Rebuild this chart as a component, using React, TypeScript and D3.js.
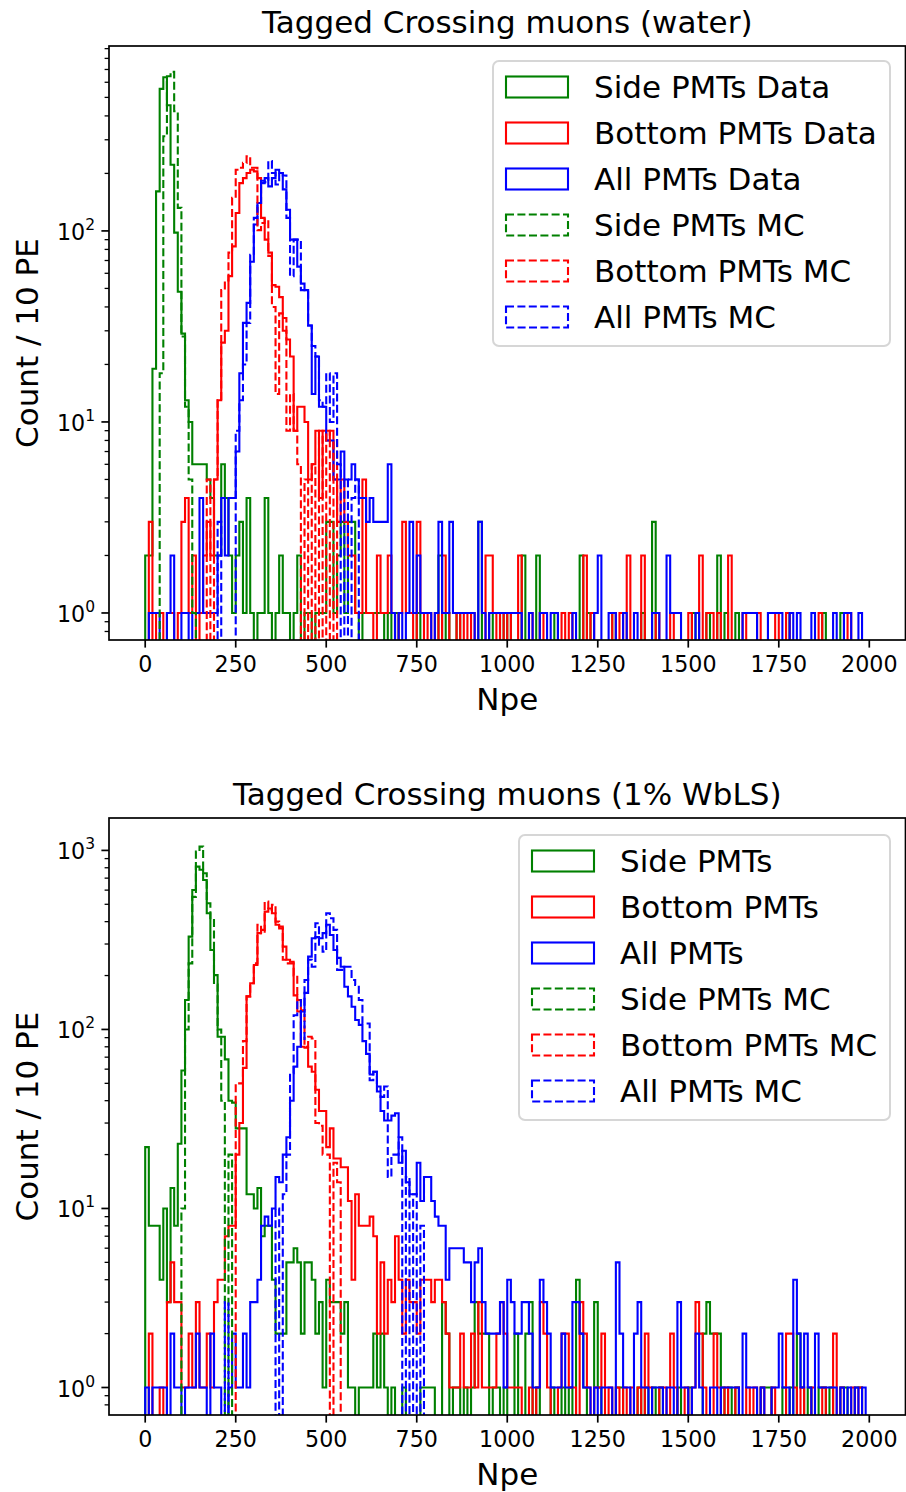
import React from "react";
import * as d3 from "d3";

const FONT = "'DejaVu Sans', sans-serif";
const binWidth = 10;
const binCount = 200;
const xTickValues = [0, 250, 500, 750, 1000, 1250, 1500, 1750, 2000];

// ---------- Water sample: counts per 10 PE bin (dense from bin 0) ----------
const waterSideData = [
  2, 2, 19, 161, 554, 637, 455, 222, 98, 48,
  29, 13, 10, 6, 6, 6, 6, 5, 4, 2,
  2, 6, 4, 2, 1, 2, 3, 1, 4, 1,
  0, 1, 1, 4, 1, 0, 1, 2, 1, 1,
  0, 1, 2, 0, 1, 1, 0, 1, 1, 1,
  3, 3, 1, 2, 3, 1, 3, 3, 1, 0,
  1, 1, 1, 1, 1, 1, 0, 1, 0, 1,
];
const waterSideDataTail = [
  [75, 1], [81, 2], [83, 1], [86, 1], [92, 3], [95, 1], [98, 1], [100, 1], [104, 2], [108, 2],
  [113, 1], [120, 2], [122, 1], [129, 1], [137, 1], [140, 3], [151, 1], [155, 1], [158, 2],
  [160, 1], [163, 1], [177, 1], [187, 1], [192, 1],
];

const waterBottomData = [
  0, 3, 0, 1, 1, 0, 1, 1, 0, 1,
  3, 4, 1, 2, 0, 1, 2, 3, 2, 5,
  13, 26, 30, 58, 83, 124, 178, 189, 201, 209,
  205, 189, 117, 90, 77, 52, 51, 45, 30, 27,
  22, 9, 12, 12, 10, 5, 6, 9, 4, 9,
  8, 9, 5, 3, 5, 3, 2, 2, 1, 1,
  5, 1, 1, 0, 2, 1, 1, 2, 1, 0,
];
const waterBottomDataTail = [
  [70, 1], [71, 3], [72, 1], [73, 1], [75, 3], [76, 1], [78, 1], [80, 1], [82, 2], [83, 1],
  [86, 1], [88, 1], [90, 1], [94, 2], [95, 2], [96, 1], [98, 1], [100, 1], [103, 2], [106, 1],
  [109, 1], [115, 1], [117, 1], [121, 2], [123, 1], [129, 1], [131, 1], [133, 2], [137, 2],
  [141, 1], [145, 1], [150, 1], [153, 2], [155, 1], [156, 1], [158, 1], [161, 2], [165, 1],
  [169, 1], [174, 1], [177, 1], [186, 1], [194, 1],
];

const waterAllData = [
  0, 1, 1, 1, 0, 0, 1, 2, 0, 0,
  1, 1, 0, 1, 1, 4, 1, 1, 1, 1,
  2, 4, 2, 4, 4, 7, 18, 33, 42, 69,
  108, 140, 178, 189, 171, 189, 209, 201, 165, 129,
  90, 90, 65, 53, 49, 32, 14, 22, 12, 12,
  8, 8, 5, 5, 7, 5, 5, 6, 5, 4,
  4, 3, 4, 3, 3, 3, 3, 6, 1, 0,
];
const waterAllDataTail = [
  [70, 1], [72, 1], [73, 3], [74, 1], [75, 2], [76, 1], [77, 1], [78, 1], [80, 1], [81, 3],
  [82, 1], [83, 1], [84, 3], [85, 1], [86, 1], [87, 1], [88, 1], [89, 1], [90, 1], [92, 3],
  [93, 1], [95, 1], [96, 1], [97, 1], [98, 1], [99, 1], [100, 1], [101, 1], [102, 1], [103, 1],
  [106, 1], [109, 1], [110, 1], [112, 1], [113, 1], [118, 1], [124, 1], [125, 2], [128, 1],
  [129, 1], [132, 1], [135, 1], [140, 1], [141, 1], [144, 2], [145, 1], [146, 1], [147, 1],
  [152, 1], [165, 1], [166, 1], [167, 1], [168, 1], [172, 1], [173, 1], [174, 1], [175, 1],
  [178, 1], [180, 1], [184, 1], [190, 1], [193, 1], [194, 1], [197, 1],
];

const waterSideMC = [0, 0, 0, 0, 18, 313, 645, 680, 423, 132, 28, 12, 5, 1];

const waterBottomMC = [
  0, 0, 0, 0, 0, 0, 0, 0, 0, 0,
  0, 0, 0, 0, 0, 0, 0, 5, 0.5, 5,
  13, 49, 55, 77, 149, 209, 214, 227, 246, 214,
  214, 101, 110, 115, 74, 40, 14, 37, 35, 9,
  14, 9, 6, 0.5, 5, 0.5, 6, 0.5, 9, 0.5,
  9, 0.5, 8, 0.5,
];

const waterAllMC = [
  0, 0, 0, 0, 0, 0, 0, 0, 0, 0,
  0, 0, 0, 0, 0, 0, 0, 0, 0, 0.5,
  3, 0.5, 0, 0, 0, 9, 13, 20, 33, 75,
  117, 140, 183, 180, 232, 201, 175, 201, 195, 117,
  58, 90, 90, 49, 49, 32, 25, 22, 13, 12,
  18, 10, 18, 6, 0.5, 5, 0.5, 4, 5, 0.5,
];

// ---------- 1% WbLS sample ----------
const wblsSideData = [
  22, 8, 8, 8, 4, 10, 3, 13, 8, 23,
  59, 146, 330, 601, 812, 780, 684, 446, 278, 201,
  91, 91, 68, 40, 39, 28, 28, 28, 12, 12,
  10, 13, 7, 8, 8, 4, 2, 2, 2, 5,
  5, 6, 5, 2, 5, 5, 4, 2, 3, 1,
  4, 3, 3, 3, 2, 3, 1, 1, 0, 1,
  1, 1, 1, 2, 1, 2, 1, 0, 1, 0,
];
const wblsSideDataTail = [
  [71, 1], [76, 1], [77, 1], [78, 1], [79, 1], [82, 3], [83, 2], [85, 1], [86, 1], [88, 1],
  [90, 1], [91, 3], [92, 2], [93, 2], [94, 2], [96, 1], [97, 1], [99, 1], [102, 2], [105, 2],
  [106, 3], [108, 1], [112, 1], [115, 1], [117, 1], [119, 4], [120, 2], [121, 1], [124, 3],
  [125, 1], [130, 1], [131, 1], [136, 1], [138, 1], [140, 1], [142, 1], [147, 1], [150, 1],
  [154, 2], [155, 3], [156, 2], [157, 2], [158, 2], [159, 1], [161, 1], [163, 1], [170, 1],
  [171, 1], [172, 1], [176, 1], [178, 1], [180, 2], [181, 1], [183, 1], [186, 1], [187, 1],
  [189, 1], [192, 1], [193, 1], [196, 1], [197, 1],
];

const wblsBottomData = [
  0, 2, 0, 0, 1, 0, 3, 5, 3, 3,
  1, 1, 2, 1, 3, 1, 1, 2, 1, 3,
  4, 4, 7, 8, 8, 20, 30, 61, 153, 181,
  229, 345, 360, 455, 474, 446, 384, 376, 290, 245,
  239, 155, 126, 80, 79, 62, 58, 46, 35, 35,
  22, 28, 19, 19, 17, 17, 11, 4, 12, 8,
  8, 8, 9, 7, 2, 5, 2, 4, 3, 7,
  4, 2, 4, 3, 3, 2, 4, 4, 4, 3,
  4, 4, 3, 2, 1, 1, 1, 2, 1, 1,
  2, 1, 3, 1, 1, 1, 1, 2, 3, 2,
];
const wblsBottomDataTail = [
  [100, 1], [101, 1], [102, 1], [103, 1], [106, 1], [108, 1], [109, 3], [110, 2], [111, 1],
  [114, 1], [115, 2], [116, 2], [117, 1], [118, 1], [120, 3], [121, 2], [122, 1], [124, 1],
  [125, 1], [126, 2], [128, 1], [130, 1], [132, 1], [134, 1], [136, 1], [138, 2], [139, 1],
  [142, 1], [143, 1], [145, 2], [146, 1], [149, 1], [151, 1], [152, 3], [153, 2], [154, 1],
  [157, 2], [158, 1], [160, 1], [163, 1], [166, 1], [168, 1], [170, 1], [173, 1], [177, 2],
  [178, 2], [179, 1], [181, 1], [184, 1], [187, 1], [190, 2], [192, 1], [195, 1], [197, 1],
];

const wblsAllData = [
  1, 0, 1, 1, 1, 1, 0, 2, 1, 1,
  0, 1, 1, 1, 2, 1, 1, 0, 2, 1,
  1, 0, 0, 1, 2, 1, 1, 2, 1, 3,
  3, 4, 8, 9, 8, 10, 15, 14, 20, 25,
  40, 62, 80, 126, 160, 255, 323, 328, 323, 345,
  384, 337, 278, 251, 224, 173, 153, 134, 113, 106,
  86, 73, 56, 58, 45, 35, 31, 31, 33, 34,
  18, 21, 14, 12, 12, 18, 11, 15, 15, 11,
  9, 8, 8, 4, 6, 6, 6, 6, 5, 5,
  3, 5, 6, 3, 2, 2, 2, 2, 3, 1,
  4, 3, 2, 2, 3,
];
const wblsAllDataTail = [
  [105, 3], [106, 2], [107, 1], [108, 1], [109, 4], [110, 3], [111, 2], [112, 1], [113, 1],
  [114, 1], [115, 2], [116, 1], [117, 1], [118, 3], [119, 3], [120, 2], [121, 1], [122, 1],
  [124, 1], [126, 1], [127, 1], [128, 1], [130, 5], [131, 2], [132, 1], [133, 1], [135, 2],
  [136, 3], [137, 1], [138, 1], [140, 1], [141, 1], [142, 1], [144, 1], [145, 1], [147, 3],
  [148, 1], [149, 1], [151, 1], [152, 2], [153, 1], [156, 1], [157, 1], [159, 1], [160, 1],
  [161, 1], [162, 1], [163, 1], [165, 2], [166, 1], [167, 1], [168, 1], [170, 1], [173, 1],
  [174, 1], [175, 2], [176, 1], [177, 1], [179, 4], [180, 2], [181, 1], [182, 2], [183, 1],
  [185, 2], [186, 1], [187, 1], [188, 1], [189, 1], [190, 1], [192, 1], [194, 1], [196, 1],
  [198, 1],
];

const wblsSideMC = [
  0, 0, 0, 0, 0, 0, 0, 0, 0, 0,
  10, 100, 234, 550, 985, 1050, 746, 507, 418, 178,
  100, 40, 0.5, 20,
];

const wblsBottomMC = [
  0, 0, 0, 0, 0, 0, 0, 0, 0, 0,
  0, 0, 0, 0, 0, 0, 0, 0, 0, 0,
  0, 0, 0, 0, 0, 50, 50, 86, 153, 181,
  234, 384, 345, 518, 465, 497, 400, 367, 245, 234,
  234, 200, 146, 128, 80, 91, 89, 30, 29, 20,
  20, 0.5, 18, 14, 0.5,
];

const wblsAllMC = [
  0, 0, 0, 0, 0, 0, 0, 0, 0, 0,
  0, 0, 0, 0, 0, 0, 0, 0, 0, 0,
  0, 0, 3, 0, 0, 0, 0, 0, 0, 0,
  0, 0, 0, 0, 0, 0.5, 10, 0.5, 12, 20,
  57, 120, 146, 87, 189, 245, 224, 392, 297, 272,
  446, 418, 360, 215, 215, 224, 224, 189, 177, 146,
  108, 108, 52, 58, 48, 42, 48, 15, 20, 20,
  25, 0.5, 15, 0.5, 12, 0.5, 8,
];

const waterLabels = [
  "Side PMTs Data", "Bottom PMTs Data", "All PMTs Data",
  "Side PMTs MC", "Bottom PMTs MC", "All PMTs MC",
];
const wblsLabels = [
  "Side PMTs", "Bottom PMTs", "All PMTs",
  "Side PMTs MC", "Bottom PMTs MC", "All PMTs MC",
];
const seriesColors = ["green", "red", "blue", "green", "red", "blue"];
const seriesDashed = [false, false, false, true, true, true];

function buildCounts(dense: number[], tail: number[][] = []): number[] {
  const out = new Array(binCount).fill(0);
  dense.forEach((v, i) => (out[i] = v));
  tail.forEach(([b, v]) => (out[b] = v));
  return out;
}

type Box = { left: number; right: number; top: number; bottom: number };
type LegendSpec = { x: number; y: number; w: number; h: number; handleX: number; textX: number; rowY: number; rowStep: number };

const BIG = 31;
const SMALL = 22.2;

function Panel(props: {
  id: string;
  box: Box;
  logMin: number;
  logMax: number;
  title: string;
  labels: string[];
  counts: number[][];
  legend: LegendSpec;
}) {
  const { id, box, logMin, logMax, title, labels, counts, legend } = props;
  const x = d3.scaleLinear().domain([-100, 2100]).range([box.left, box.right]);
  const y = d3.scaleLog().domain([Math.pow(10, logMin), Math.pow(10, logMax)]).range([box.bottom, box.top]);
  const below = box.bottom + 20;

  const stepPath = (c: number[]) => {
    const yy = (v: number) => (v > 0 ? y(v) : below);
    const pts: [number, number][] = [[x(0), below]];
    c.forEach((v, i) => {
      pts.push([x(i * binWidth), yy(v)]);
      pts.push([x((i + 1) * binWidth), yy(v)]);
    });
    pts.push([x(c.length * binWidth), below]);
    return d3.line()(pts) as string;
  };

  const majors: number[] = [];
  for (let k = Math.ceil(logMin); k <= Math.floor(logMax); k++) majors.push(k);
  const minors: number[] = [];
  for (let k = Math.floor(logMin); k <= Math.floor(logMax); k++) {
    for (let m = 2; m <= 9; m++) {
      const v = m * Math.pow(10, k);
      const lv = Math.log10(v);
      if (lv > logMin && lv < logMax) minors.push(v);
    }
  }
  const midY = (box.top + box.bottom) / 2;
  const midX = (box.left + box.right) / 2;

  return (
    <g>
      <defs>
        <clipPath id={`clip-${id}`}>
          <rect x={box.left} y={box.top} width={box.right - box.left} height={box.bottom - box.top} />
        </clipPath>
      </defs>
      <text x={midX} y={box.top - 13} textAnchor="middle" fontSize={BIG}>{title}</text>
      <g clipPath={`url(#clip-${id})`}>
        {counts.map((c, i) => (
          <path
            key={i}
            d={stepPath(c)}
            fill="none"
            stroke={seriesColors[i]}
            strokeWidth={2.1}
            strokeDasharray={seriesDashed[i] ? "8,3.4" : undefined}
          />
        ))}
      </g>
      {/* spines */}
      <rect x={box.left} y={box.top} width={box.right - box.left} height={box.bottom - box.top}
        fill="none" stroke="#000" strokeWidth={1.7} />
      {/* x ticks */}
      {xTickValues.map((v) => (
        <g key={v}>
          <line x1={x(v)} x2={x(v)} y1={box.bottom} y2={box.bottom + 7.6} stroke="#000" strokeWidth={1.7} />
          <text x={x(v)} y={box.bottom + 32} textAnchor="middle" fontSize={SMALL}>{v}</text>
        </g>
      ))}
      {/* y ticks */}
      {minors.map((v) => (
        <line key={v} x1={box.left - 4.4} x2={box.left} y1={y(v)} y2={y(v)} stroke="#000" strokeWidth={1.3} />
      ))}
      {majors.map((k) => (
        <g key={k}>
          <line x1={box.left - 7.6} x2={box.left} y1={y(Math.pow(10, k))} y2={y(Math.pow(10, k))} stroke="#000" strokeWidth={1.7} />
          <text x={box.left - 14} y={y(Math.pow(10, k)) + 9} textAnchor="end" fontSize={SMALL}>
            10<tspan dy={-10} fontSize={15.5}>{k}</tspan>
          </text>
        </g>
      ))}
      <text x={midX} y={box.bottom + 70} textAnchor="middle" fontSize={BIG}>Npe</text>
      <text transform={`translate(38,${midY}) rotate(-90)`} textAnchor="middle" fontSize={BIG}>Count / 10 PE</text>
      {/* legend */}
      <rect x={legend.x} y={legend.y} width={legend.w} height={legend.h} rx={6} ry={6}
        fill="#fff" fillOpacity={0.8} stroke="#cccccc" strokeOpacity={0.8} strokeWidth={2} />
      {labels.map((lab, i) => {
        const cy = legend.rowY + i * legend.rowStep;
        return (
          <g key={lab}>
            <rect x={legend.handleX} y={cy - 10.5} width={62} height={21} fill="none"
              stroke={seriesColors[i]} strokeWidth={2.1}
              strokeDasharray={seriesDashed[i] ? "8,3.4" : undefined} />
            <text x={legend.textX} y={cy + 11} fontSize={BIG}>{lab}</text>
          </g>
        );
      })}
    </g>
  );
}

export default function App() {
  const waterCounts = [
    buildCounts(waterSideData, waterSideDataTail),
    buildCounts(waterBottomData, waterBottomDataTail),
    buildCounts(waterAllData, waterAllDataTail),
    buildCounts(waterSideMC),
    buildCounts(waterBottomMC),
    buildCounts(waterAllMC),
  ];
  const wblsCounts = [
    buildCounts(wblsSideData, wblsSideDataTail),
    buildCounts(wblsBottomData, wblsBottomDataTail),
    buildCounts(wblsAllData, wblsAllDataTail),
    buildCounts(wblsSideMC),
    buildCounts(wblsBottomMC),
    buildCounts(wblsAllMC),
  ];
  return (
    <svg width={906} height={1492} fontFamily={FONT}
      style={{ position: "absolute", left: 0, top: 0, background: "#fff" }}>
      <rect width={906} height={1492} fill="#fff" />
      <Panel
        id="water"
        box={{ left: 109, right: 905.5, top: 46, bottom: 640 }}
        logMin={-0.1415}
        logMax={2.968}
        title="Tagged Crossing muons (water)"
        labels={waterLabels}
        counts={waterCounts}
        legend={{ x: 493, y: 61, w: 397, h: 285, handleX: 506, textX: 594, rowY: 87, rowStep: 46 }}
      />
      <Panel
        id="wbls"
        box={{ left: 109, right: 905.5, top: 818, bottom: 1415 }}
        logMin={-0.1536}
        logMax={3.181}
        title="Tagged Crossing muons (1% WbLS)"
        labels={wblsLabels}
        counts={wblsCounts}
        legend={{ x: 519, y: 835, w: 371, h: 285, handleX: 532, textX: 620, rowY: 861, rowStep: 46 }}
      />
    </svg>
  );
}
